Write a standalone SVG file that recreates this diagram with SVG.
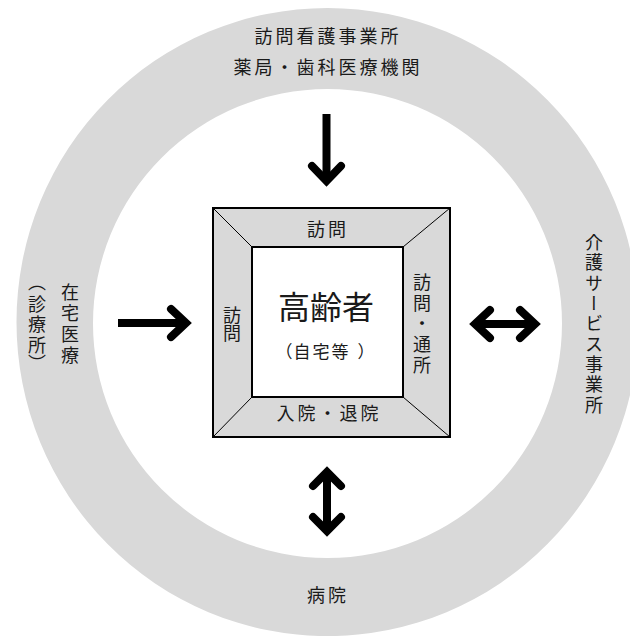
<svg xmlns="http://www.w3.org/2000/svg" width="630" height="636" viewBox="0 0 630 636">
<style>
text{font-family:"Noto Sans CJK JP","Noto Sans CJK SC",sans-serif;fill:#1a1a1a;text-anchor:middle}
.lbl{font-size:18px;letter-spacing:3px}
.v{font-size:18px;writing-mode:vertical-rl}
.shaft{fill:none;stroke:#000;stroke-width:8;stroke-linecap:butt}
.head{fill:none;stroke:#000;stroke-width:8;stroke-linecap:round;stroke-linejoin:miter;stroke-miterlimit:4}
</style>
<rect width="630" height="636" fill="#fff"/>
<g id="ring">
<path d="M16.5,322 a311,314 0 1,0 622,0 a311,314 0 1,0 -622,0 Z M93,323.5 a234.5,234.5 0 1,0 469,0 a234.5,234.5 0 1,0 -469,0 Z" fill="#d9d9d9" fill-rule="evenodd"/>
</g>
<g id="node-top">
<text class="lbl" x="328" y="43">訪問看護事業所</text>
<text class="lbl" x="328" y="74">薬局・歯科医療機関</text>
</g>
<g id="node-left">
<text class="v" x="70" y="292 313 334 355">在宅医療</text>
<text class="v" x="37" y="282 304 324 345 363">（診療所）</text>
</g>
<g id="node-right">
<text class="v" x="594" y="242 262.5 283 303 323.5 344 364 384.5 405">介護サービス事業所</text>
</g>
<g id="node-bottom">
<text class="lbl" x="328" y="602">病院</text>
</g>
<g id="node-center">
<rect x="213" y="208" width="237" height="229" fill="#d9d9d9" stroke="#000" stroke-width="2"/>
<line x1="213" y1="208" x2="252" y2="247" stroke="#000" stroke-width="1"/>
<line x1="450" y1="208" x2="403" y2="247" stroke="#000" stroke-width="1"/>
<line x1="213" y1="437" x2="252" y2="397" stroke="#000" stroke-width="1"/>
<line x1="450" y1="437" x2="403" y2="397" stroke="#000" stroke-width="1"/>
<rect x="252" y="247" width="151" height="150" fill="#fff" stroke="#000" stroke-width="2"/>
<text x="326" y="319" style="font-size:32px">高齢者</text>
<text x="284 302 321 340 366" y="358" style="font-size:17px">（自宅等）</text>
<text class="lbl" x="328" y="236">訪問</text>
<text class="v" x="232" y="315 333.5">訪問</text>
<text class="v" x="422" y="282 303 323.5 344 365">訪問・通所</text>
<text class="lbl" x="329" y="420">入院・退院</text>
</g>
<g id="connectors">
<line class="shaft" x1="326.5" y1="114" x2="326.5" y2="181"/>
<polyline class="head" points="312,166 326.5,181 341,166"/>
<line class="shaft" x1="118" y1="323" x2="186" y2="323"/>
<polyline class="head" points="171,309 186,323 171,337"/>
<line class="shaft" x1="475" y1="324" x2="535" y2="324"/>
<polyline class="head" points="490,310 475,324 490,338"/>
<polyline class="head" points="520,310 535,324 520,338"/>
<line class="shaft" x1="327" y1="472" x2="327" y2="531"/>
<polyline class="head" points="313,486 327,472 341,486"/>
<polyline class="head" points="313,517 327,531 341,517"/>
</g>
</svg>
